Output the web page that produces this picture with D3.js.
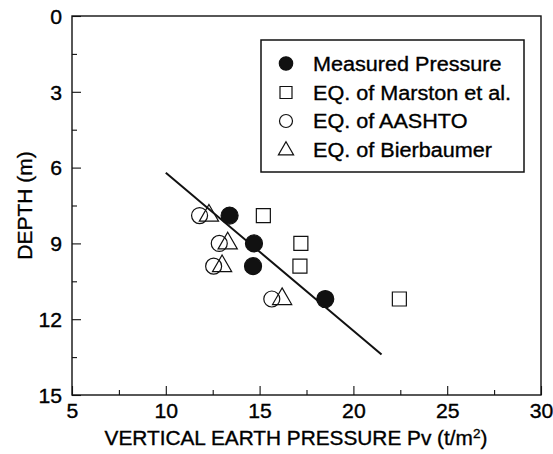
<!DOCTYPE html>
<html>
<head>
<meta charset="utf-8">
<script src="https://cdn.jsdelivr.net/npm/d3@7"></script>
<style>
  html, body { margin: 0; padding: 0; background: #fff; }
  text { font-family: "Liberation Sans", Arial, Helvetica, sans-serif; fill: #000; stroke: #000; stroke-width: 0.35px; }
</style>
</head>
<body>
<svg id="chart"></svg>
<script>
// data
const depths = [7.9, 9.0, 9.9, 11.2];
const measured = [13.4, 14.7, 14.65, 18.5];
const marston = [15.2, 17.2, 17.15, 22.45];
const aashto = [11.8, 12.85, 12.55, 15.65];
const bierbaumer = [12.3, 13.3, 13.0, 16.2];
const fitPressure = [10, 21.5];
const fitDepth = [6.2, 13.4];

const xTicks = [5, 10, 15, 20, 25, 30];
const yTicks = [0, 3, 6, 9, 12, 15];
const legendLabels = ['Measured Pressure', 'EQ. of Marston et al.', 'EQ. of AASHTO', 'EQ. of Bierbaumer'];

const W = 553, H = 454;
const margin = { top: 16, right: 12, bottom: 59, left: 72 };
const STRETCH = 1.06; // the scan is a bit wide

const svg = d3.select('#chart').attr('width', W).attr('height', H);

const x = d3.scaleLinear().domain([5, 30]).range([margin.left, W - margin.right]);
const y = d3.scaleLinear().domain([0, 15]).range([margin.top, H - margin.bottom]);

// stretch text horizontally to match the scan
function widen(sel, k) {
  sel.each(function () {
    const len = this.getComputedTextLength();
    d3.select(this).attr('textLength', len * k).attr('lengthAdjust', 'spacingAndGlyphs');
  });
}

// frame
svg.append('rect')
  .attr('x', x(5)).attr('y', y(0))
  .attr('width', x(30) - x(5)).attr('height', y(15) - y(0))
  .attr('fill', 'none').attr('stroke', '#111').attr('stroke-width', 1.4);

// x axis, ticks inside
const xMinor = d3.range(7.5, 30, 5);
const gx = svg.append('g').attr('transform', `translate(0,${y(15)})`);
gx.call(d3.axisBottom(x).tickValues(xTicks).tickSize(-9).tickFormat(d3.format('d')));
gx.selectAll('.tick text').attr('y', 23).attr('dy', 0);
svg.append('g').attr('transform', `translate(0,${y(15)})`)
  .call(d3.axisBottom(x).tickValues(xMinor).tickSize(-5).tickFormat(''));

// y axis, ticks inside
const yMinor = d3.range(1.5, 15, 3);
const gy = svg.append('g').attr('transform', `translate(${x(5)},0)`);
gy.call(d3.axisLeft(y).tickValues(yTicks).tickSize(-9).tickFormat(d3.format('d')));
gy.selectAll('.tick text').attr('x', -10).attr('dy', '0.36em');
svg.append('g').attr('transform', `translate(${x(5)},0)`)
  .call(d3.axisLeft(y).tickValues(yMinor).tickSize(-5).tickFormat(''));

svg.selectAll('.domain').remove();
svg.selectAll('.tick line').attr('stroke', '#111').attr('stroke-width', 1.1);
svg.selectAll('.tick text')
  .attr('font-size', 20).attr('font-family', '"Liberation Sans", Arial, sans-serif').attr('fill', '#000');
widen(svg.selectAll('.tick text'), STRETCH);

// axis titles
const xt = svg.append('text')
  .attr('x', 296).attr('y', 445)
  .attr('text-anchor', 'middle').attr('font-size', 20);
xt.append('tspan').text('VERTICAL EARTH PRESSURE Pv (t/m');
xt.append('tspan').attr('font-size', 13).attr('dy', -7).text('2');
xt.append('tspan').attr('dy', 7).text(')');
widen(xt, 1.04);

svg.append('text')
  .attr('transform', `translate(32,${(y(0) + y(15)) / 2}) rotate(-90)`)
  .attr('text-anchor', 'middle').attr('font-size', 21)
  .text('DEPTH (m)');

// fitted line
const line = d3.line().x(d => x(d[0])).y(d => y(d[1]));
svg.append('path')
  .datum(d3.zip(fitPressure, fitDepth))
  .attr('d', line)
  .attr('fill', 'none').attr('stroke', '#111').attr('stroke-width', 2);

// markers
const sym = {
  circleFill: d3.symbol().type(d3.symbolCircle).size(Math.PI * 8.5 * 8.5),
  circle: d3.symbol().type(d3.symbolCircle).size(Math.PI * 8 * 8),
  square: d3.symbol().type(d3.symbolSquare).size(14 * 14),
  triangle: d3.symbol().type(d3.symbolTriangle).size(160)
};

function plot(values, shape, filled) {
  svg.append('g').selectAll('path')
    .data(d3.zip(values, depths))
    .join('path')
    .attr('transform', d => `translate(${x(d[0])},${y(d[1])})`)
    .attr('d', shape)
    .attr('fill', filled ? '#111' : 'none')
    .attr('stroke', '#111').attr('stroke-width', 1.2);
}
plot(marston, sym.square, false);
plot(aashto, sym.circle, false);
plot(bierbaumer, sym.triangle, false);
plot(measured, sym.circleFill, true);

// legend
const lg = svg.append('g');
lg.append('rect')
  .attr('x', 261).attr('y', 40).attr('width', 263).attr('height', 132)
  .attr('fill', '#fff').attr('stroke', '#111').attr('stroke-width', 1.5);
const legSym = [
  { s: d3.symbol().type(d3.symbolCircle).size(Math.PI * 6.7 * 6.7), fill: true },
  { s: d3.symbol().type(d3.symbolSquare).size(12 * 12), fill: false },
  { s: d3.symbol().type(d3.symbolCircle).size(Math.PI * 6.5 * 6.5), fill: false },
  { s: d3.symbol().type(d3.symbolTriangle).size(100), fill: false }
];
const rowY = [63.5, 92.5, 121, 149.5];
legendLabels.forEach((label, i) => {
  lg.append('path')
    .attr('transform', `translate(286,${rowY[i] + (i === 3 ? 1 : 0)})`)
    .attr('d', legSym[i].s)
    .attr('fill', legSym[i].fill ? '#111' : 'none')
    .attr('stroke', '#111').attr('stroke-width', 1.2);
  const t = lg.append('text')
    .attr('x', 313).attr('y', rowY[i] + 7)
    .attr('font-size', 20)
    .text(label);
  widen(t, 1.08);
});
</script>
</body>
</html>
